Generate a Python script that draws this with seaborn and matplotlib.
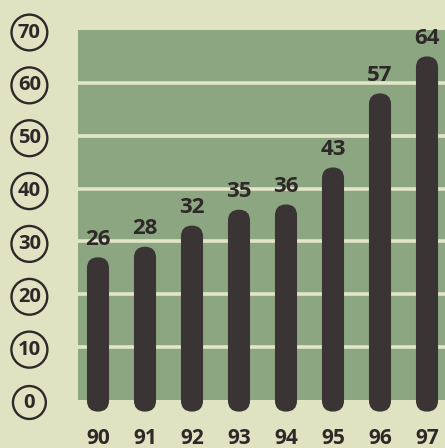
import matplotlib
matplotlib.use("Agg")
import matplotlib.pyplot as plt
import seaborn as sns
import pandas as pd
from matplotlib.patches import FancyBboxPatch

years = ["90", "91", "92", "93", "94", "95", "96", "97"]
values = [26, 28, 32, 35, 36, 43, 57, 64]
y_ticks = [0, 10, 20, 30, 40, 50, 60, 70]
grid_vals = [10, 20, 30, 40, 50, 60]

BG = "#e0e3c2"
GREEN = "#8ca682"
LINE = "#e2e6c8"
BAR = "#3a3434"
TXT = "#2e2828"

sns.set_theme(style="white")
plt.rcParams["font.family"] = ["Open Sans", "DejaVu Sans"]

W, H = 445, 448
fig = plt.figure(figsize=(W / 100, H / 100), dpi=100, facecolor=BG)
ax_l, ax_r, ax_t, ax_b = 78, 445, 30, 400
ax = fig.add_axes([ax_l / W, 1 - ax_b / H, (ax_r - ax_l) / W, (ax_b - ax_t) / H])
ax.set_facecolor(GREEN)

df = pd.DataFrame({"year": years, "value": values})
bar_w = 0.47
sns.barplot(data=df, x="year", y="value", color=BAR, saturation=1,
            width=bar_w, ax=ax)

xlim = (-0.4255, 7.383)
ylim = (0, 70)
ax.set_xlim(*xlim)
ax.set_ylim(*ylim)

for g in grid_vals:
    ax.axhline(g, color=LINE, lw=2.6, zorder=1)

px_x = (ax_r - ax_l) / (xlim[1] - xlim[0])
px_y = (ax_b - ax_t) / (ylim[1] - ylim[0])
aspect = px_x / px_y

bottom = -2.2
cap_extra = 1.0
for p in list(ax.patches):
    x0, w, h = p.get_x(), p.get_width(), p.get_height()
    p.remove()
    fb = FancyBboxPatch((x0, bottom), w, h + cap_extra - bottom,
                        boxstyle=f"round,pad=0,rounding_size={w/2}",
                        mutation_aspect=aspect, facecolor=BAR,
                        edgecolor="none", clip_on=False, zorder=3)
    ax.add_patch(fb)

for i, v in enumerate(values):
    ax.text(i, v + 3.4, str(v), ha="center", va="baseline", fontsize=16,
            fontweight="bold", color=TXT, zorder=4)

ax.set_yticks(y_ticks)
ax.set_yticklabels([str(t) for t in y_ticks])
ax.tick_params(axis="y", length=0, pad=35, labelcolor=TXT)
ax.tick_params(axis="x", length=0, pad=20, labelcolor=TXT)
for t in ax.get_yticklabels():
    t.set_ha("center")
    t.set_fontsize(14.5)
    t.set_fontweight("bold")
    t.set_bbox(dict(boxstyle="circle,pad=0.32", facecolor="none",
                    edgecolor=TXT, linewidth=1.7))
for t in ax.get_xticklabels():
    t.set_fontsize(15)
    t.set_fontweight("bold")

ax.set_xlabel("")
ax.set_ylabel("")
for s in ax.spines.values():
    s.set_visible(False)

fig.savefig("out.png", dpi=100, facecolor=BG)
